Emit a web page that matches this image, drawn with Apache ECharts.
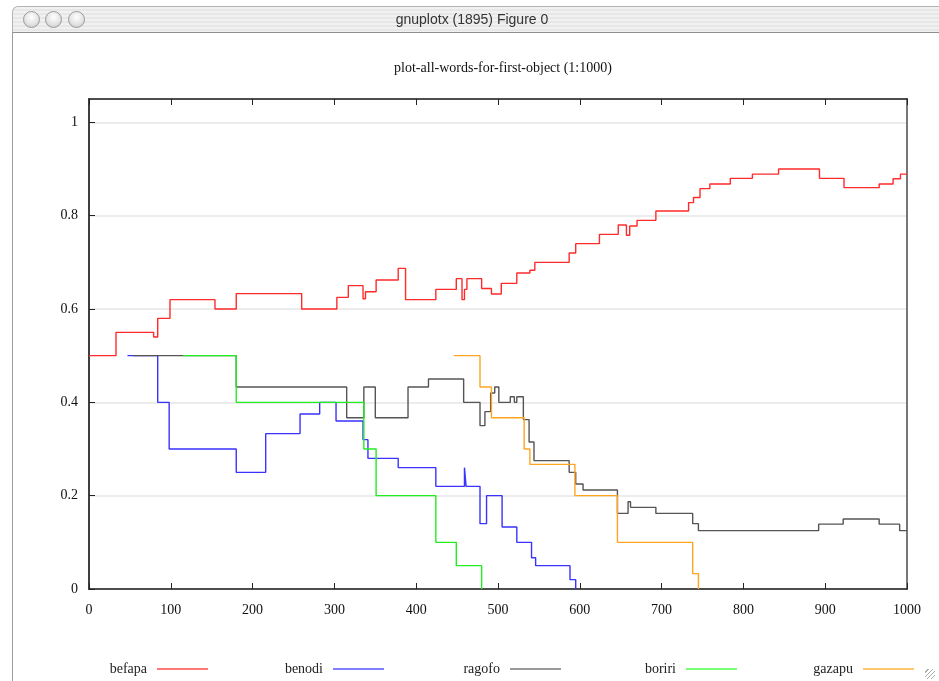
<!DOCTYPE html>
<html>
<head>
<meta charset="utf-8">
<title>gnuplotx (1895) Figure 0</title>
<script src="https://cdn.jsdelivr.net/npm/echarts@6/dist/echarts.min.js"></script>
<style>
  html, body { margin: 0; padding: 0; background: #fff; }
  #page { position: relative; width: 939px; height: 681px; overflow: hidden; background: #fff; }
  #chart { position: absolute; left: 0; top: 0; width: 939px; height: 681px; }
  .titlebar {
    position: absolute; left: 12px; top: 6px; width: 930px; height: 25px;
    border: 1px solid #b4b4b4; border-bottom: 1px solid #8e8e8e;
    border-radius: 6px 6px 0 0;
    background: repeating-linear-gradient(#f1f1f1 0px, #f1f1f1 2px, #e7e7e7 2px, #e7e7e7 4px);
    z-index: 2;
  }
  .titlebar .caption {
    position: absolute; left: 0; right: 0; top: 4px; text-align: center;
    font: 14px "Liberation Sans", "DejaVu Sans", sans-serif; color: #333;
    margin-left: -12px;
  }
  .btn {
    position: absolute; top: 4px; width: 15px; height: 15px; border-radius: 50%;
    border: 1px solid #9a9a9a;
    background: radial-gradient(circle at 50% 35%, #ffffff 0%, #e4e4e4 55%, #c4c4c4 100%);
  }
  .edge { position: absolute; left: 12px; top: 32px; width: 1px; height: 660px; background: #9c9c9c; z-index: 2; }
  .grip { position: absolute; right: 4px; bottom: 2px; width: 10px; height: 10px; z-index: 2;
    background: repeating-linear-gradient(135deg, transparent 0px, transparent 2px, #aaa 2px, #aaa 3px); }
</style>
</head>
<body>
<div id="page">
  <div id="chart"></div>
  <div class="titlebar">
    <div class="btn" style="left:10px"></div>
    <div class="btn" style="left:32px"></div>
    <div class="btn" style="left:55px"></div>
    <div class="caption">gnuplotx (1895) Figure 0</div>
  </div>
  <div class="edge"></div>
  <div class="grip"></div>
</div>
<script>
// word scores per step, stepwise: each y holds from its x to the next x
const befapaX = [0, 33, 79, 84, 99, 154, 180, 260, 303, 317, 335, 338, 351, 378, 387, 424, 449, 456, 459, 462, 480, 492, 504, 523, 539, 545, 587, 595, 624, 647, 657, 661, 670, 693, 733, 739, 747, 759, 784, 811, 843, 893, 923, 966, 983, 992, 1000];
const befapaY = [0.5, 0.55, 0.54, 0.58, 0.62, 0.6, 0.633, 0.6, 0.625, 0.65, 0.622, 0.637, 0.662, 0.687, 0.62, 0.642, 0.665, 0.62, 0.642, 0.665, 0.644, 0.632, 0.655, 0.677, 0.683, 0.7, 0.72, 0.74, 0.76, 0.78, 0.758, 0.778, 0.79, 0.81, 0.828, 0.839, 0.858, 0.868, 0.88, 0.889, 0.9, 0.88, 0.86, 0.868, 0.879, 0.889, 0.889];

const benodiX = [47, 84, 98, 180, 216, 258, 282, 302, 335, 341, 378, 424, 459, 461, 478, 486, 505, 523, 541, 546, 588, 595];
const benodiY = [0.5, 0.4, 0.3, 0.25, 0.333, 0.375, 0.4, 0.36, 0.32, 0.28, 0.26, 0.22, 0.26, 0.22, 0.14, 0.2, 0.133, 0.1, 0.067, 0.05, 0.02, 0];

const ragofoX = [54, 180, 315, 336, 350, 390, 415, 458, 478, 484, 491, 496, 501, 515, 520, 523, 531, 538, 544, 587, 595, 604, 646, 659, 662, 693, 738, 745, 892, 922, 966, 991, 1000];
const ragofoY = [0.5, 0.433, 0.367, 0.433, 0.367, 0.433, 0.45, 0.4, 0.35, 0.38, 0.42, 0.433, 0.4, 0.412, 0.4, 0.412, 0.363, 0.315, 0.275, 0.25, 0.225, 0.212, 0.162, 0.187, 0.175, 0.162, 0.14, 0.125, 0.139, 0.15, 0.139, 0.125, 0.125];

const boririX = [115, 180, 336, 351, 424, 449, 480];
const boririY = [0.5, 0.4, 0.3, 0.2, 0.1, 0.05, 0];

const gazapuX = [446, 478, 492, 532, 539, 594, 646, 738, 745];
const gazapuY = [0.5, 0.433, 0.367, 0.3, 0.267, 0.2, 0.1, 0.033, 0];

const xTicks = [0, 100, 200, 300, 400, 500, 600, 700, 800, 900, 1000];
const yTicks = [0, 0.2, 0.4, 0.6, 0.8, 1];

const words = [
  { name: "befapa", xs: befapaX, ys: befapaY, color: "#ff2a2a", legend: "#ff7777", right: 731 },
  { name: "benodi", xs: benodiX, ys: benodiY, color: "#3a32ff", legend: "#7f7fff", right: 555 },
  { name: "ragofo", xs: ragofoX, ys: ragofoY, color: "#555555", legend: "#9a9a9a", right: 378 },
  { name: "boriri", xs: boririX, ys: boririY, color: "#22ee22", legend: "#77ff77", right: 202 },
  { name: "gazapu", xs: gazapuX, ys: gazapuY, color: "#ffa520", legend: "#ffc870", right: 25 }
];

const serif = "'Liberation Serif', 'DejaVu Serif', serif";

const chart = echarts.init(document.getElementById("chart"), null, { renderer: "canvas" });

const option = {
  animation: false,
  backgroundColor: "#fff",
  title: {
    text: "plot-all-words-for-first-object (1:1000)",
    left: 498,
    top: 56,
    textAlign: "center",
    textStyle: { fontFamily: serif, fontSize: 14, fontWeight: "normal", color: "#111" }
  },
  grid: {
    left: 89, right: 32, top: 99, bottom: 92, containLabel: false,
    show: true, borderColor: "#777", borderWidth: 1.5, backgroundColor: "transparent"
  },
  legend: words.map((w) => ({
    data: [w.name],
    right: w.right,
    top: 662,
    padding: 0,
    align: "right",
    icon: "rect",
    itemWidth: 51,
    itemHeight: 2,
    itemStyle: { color: w.legend },
    textStyle: { fontFamily: serif, fontSize: 14, color: "#222", padding: [0, 5, 0, 0] },
    selectedMode: false
  })),
  xAxis: [
    {
      type: "value",
      min: 0,
      max: 1000,
      interval: 100,
      axisLine: { show: true, onZero: false, lineStyle: { color: "#222", width: 1.5 } },
      axisTick: { show: true, inside: true, length: 6, lineStyle: { color: "#222" } },
      axisLabel: {
        margin: 14,
        fontFamily: serif,
        fontSize: 14,
        color: "#111",
        formatter: (v) => (xTicks.includes(v) ? String(v) : "")
      },
      splitLine: { show: false }
    },
    {
      type: "value",
      position: "top",
      min: 0,
      max: 1000,
      interval: 100,
      axisLine: { show: true, onZero: false, lineStyle: { color: "#222", width: 1.5 } },
      axisTick: { show: true, inside: true, length: 6, lineStyle: { color: "#222" } },
      axisLabel: { show: false },
      splitLine: { show: false }
    }
  ],
  yAxis: [
    {
      type: "value",
      min: 0,
      max: 1.05,
      interval: 0.2,
      axisLine: { show: true, onZero: false, lineStyle: { color: "#222", width: 1.5 } },
      axisTick: { show: true, inside: true, length: 6, lineStyle: { color: "#222" } },
      axisLabel: {
        margin: 11,
        fontFamily: serif,
        fontSize: 14,
        color: "#111",
        showMaxLabel: false,
        formatter: (v) => {
          const t = yTicks.find((k) => Math.abs(k - v) < 1e-6);
          return t === undefined ? "" : String(t);
        }
      },
      splitLine: { show: true, lineStyle: { color: "#e6e6e6", width: 1.5 } }
    },
    {
      type: "value",
      position: "right",
      min: 0,
      max: 1.05,
      interval: 0.2,
      axisLine: { show: true, onZero: false, lineStyle: { color: "#777", width: 2 } },
      axisTick: { show: false },
      axisLabel: { show: false },
      splitLine: { show: false }
    }
  ],
  series: words.map((w) => ({
    name: w.name,
    type: "line",
    step: "end",
    showSymbol: false,
    symbol: "none",
    xAxisIndex: 0,
    yAxisIndex: 0,
    color: w.legend,
    lineStyle: { color: w.color, width: 1.4 },
    emphasis: { disabled: true },
    data: w.xs.map((x, i) => [x, w.ys[i]])
  }))
};

chart.setOption(option);
</script>
</body>
</html>
